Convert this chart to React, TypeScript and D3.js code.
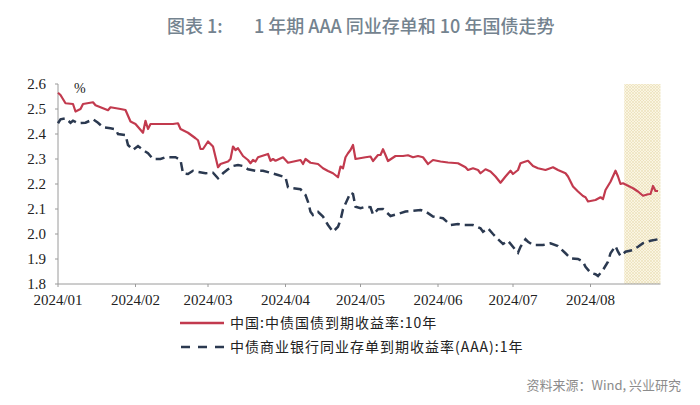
import React from "react";
import * as d3 from "d3";

// 中国:中债国债到期收益率:10年
const bondDates = [
  "2024-01-01", "2024-01-02", "2024-01-04", "2024-01-07", "2024-01-08", "2024-01-10", "2024-01-11",
  "2024-01-15", "2024-01-16", "2024-01-20", "2024-01-21", "2024-01-22", "2024-01-26", "2024-01-28",
  "2024-01-30", "2024-02-01", "2024-02-04", "2024-02-05", "2024-02-06", "2024-02-07", "2024-02-16",
  "2024-02-18", "2024-02-19", "2024-02-22", "2024-02-25", "2024-02-26", "2024-02-27", "2024-02-28",
  "2024-03-01", "2024-03-03", "2024-03-05", "2024-03-06", "2024-03-09", "2024-03-10", "2024-03-11",
  "2024-03-12", "2024-03-13", "2024-03-15", "2024-03-17", "2024-03-18", "2024-03-19", "2024-03-20",
  "2024-03-21", "2024-03-25", "2024-03-26", "2024-03-27", "2024-03-28", "2024-03-31", "2024-04-02",
  "2024-04-07", "2024-04-08", "2024-04-09", "2024-04-11", "2024-04-14", "2024-04-16", "2024-04-18",
  "2024-04-20", "2024-04-22", "2024-04-23", "2024-04-24", "2024-04-25", "2024-04-26", "2024-04-27",
  "2024-04-28", "2024-04-29", "2024-05-03", "2024-05-05", "2024-05-06", "2024-05-08", "2024-05-09",
  "2024-05-10", "2024-05-11", "2024-05-12", "2024-05-15", "2024-05-18", "2024-05-20", "2024-05-22",
  "2024-05-24", "2024-05-26", "2024-05-28", "2024-05-30", "2024-06-02", "2024-06-05", "2024-06-09",
  "2024-06-12", "2024-06-13", "2024-06-15", "2024-06-17", "2024-06-18", "2024-06-20", "2024-06-22",
  "2024-06-24", "2024-06-26", "2024-06-28", "2024-06-30", "2024-07-01", "2024-07-03", "2024-07-04",
  "2024-07-06", "2024-07-07", "2024-07-09", "2024-07-11", "2024-07-14", "2024-07-17", "2024-07-19",
  "2024-07-22", "2024-07-23", "2024-07-25", "2024-07-27", "2024-07-29", "2024-07-30", "2024-07-31",
  "2024-08-03", "2024-08-05", "2024-08-06", "2024-08-07", "2024-08-09", "2024-08-11", "2024-08-12",
  "2024-08-13", "2024-08-14", "2024-08-18", "2024-08-20", "2024-08-22", "2024-08-24", "2024-08-25",
  "2024-08-26", "2024-08-27", "2024-08-28",
];
const bondYields = [
  2.565, 2.556, 2.523, 2.52, 2.49, 2.5, 2.52,
  2.527, 2.515, 2.499, 2.495, 2.507, 2.5, 2.496,
  2.45, 2.44, 2.405, 2.453, 2.42, 2.44, 2.44,
  2.443, 2.42, 2.405, 2.383, 2.375, 2.34, 2.34,
  2.37, 2.35, 2.267, 2.28, 2.29, 2.3, 2.35,
  2.336, 2.343, 2.312, 2.296, 2.283, 2.296, 2.29,
  2.307, 2.32, 2.293, 2.3, 2.293, 2.307, 2.285,
  2.296, 2.28, 2.3, 2.285, 2.28, 2.263, 2.252,
  2.243, 2.227, 2.27, 2.263, 2.307, 2.323, 2.336,
  2.356, 2.3, 2.307, 2.31, 2.292, 2.316, 2.316,
  2.339, 2.316, 2.292, 2.312, 2.312, 2.315, 2.307,
  2.312, 2.307, 2.28, 2.296, 2.29, 2.286, 2.283,
  2.267, 2.256, 2.263, 2.256, 2.243, 2.259, 2.25,
  2.23, 2.205, 2.23, 2.253, 2.24, 2.256, 2.283,
  2.29, 2.293, 2.272, 2.263, 2.256, 2.267, 2.256,
  2.243, 2.23, 2.19, 2.17, 2.152, 2.147, 2.13,
  2.136, 2.147, 2.14, 2.176, 2.209, 2.253, 2.23,
  2.2, 2.203, 2.183, 2.17, 2.153, 2.159, 2.16,
  2.192, 2.172, 2.172,
];

// 中债商业银行同业存单到期收益率(AAA):1年
const cdDates = [
  "2024-01-01", "2024-01-02", "2024-01-04", "2024-01-06", "2024-01-07", "2024-01-09", "2024-01-12",
  "2024-01-15", "2024-01-17", "2024-01-19", "2024-01-22", "2024-01-24", "2024-01-25", "2024-01-28",
  "2024-01-29", "2024-01-31", "2024-02-02", "2024-02-04", "2024-02-06", "2024-02-08", "2024-02-11",
  "2024-02-13", "2024-02-17", "2024-02-19", "2024-02-20", "2024-02-22", "2024-02-24", "2024-02-26",
  "2024-02-29", "2024-03-03", "2024-03-05", "2024-03-07", "2024-03-09", "2024-03-11", "2024-03-13",
  "2024-03-15", "2024-03-17", "2024-03-20", "2024-03-23", "2024-03-26", "2024-03-29", "2024-04-01",
  "2024-04-02", "2024-04-04", "2024-04-07", "2024-04-09", "2024-04-10", "2024-04-11", "2024-04-12",
  "2024-04-14", "2024-04-16", "2024-04-18", "2024-04-20", "2024-04-22", "2024-04-23", "2024-04-24",
  "2024-04-26", "2024-04-27", "2024-04-28", "2024-04-29", "2024-05-01", "2024-05-03", "2024-05-05",
  "2024-05-06", "2024-05-08", "2024-05-10", "2024-05-13", "2024-05-16", "2024-05-19", "2024-05-22",
  "2024-05-25", "2024-05-27", "2024-05-30", "2024-06-03", "2024-06-06", "2024-06-09", "2024-06-11",
  "2024-06-15", "2024-06-18", "2024-06-19", "2024-06-21", "2024-06-23", "2024-06-25", "2024-06-27",
  "2024-06-29", "2024-07-02", "2024-07-03", "2024-07-04", "2024-07-06", "2024-07-07", "2024-07-09",
  "2024-07-13", "2024-07-16", "2024-07-19", "2024-07-22", "2024-07-24", "2024-07-27", "2024-07-29",
  "2024-07-30", "2024-08-01", "2024-08-03", "2024-08-04", "2024-08-06", "2024-08-08", "2024-08-09",
  "2024-08-11", "2024-08-12", "2024-08-13", "2024-08-15", "2024-08-18", "2024-08-20", "2024-08-22",
  "2024-08-25", "2024-08-28",
];
const cdYields = [
  2.443, 2.459, 2.463, 2.445, 2.453, 2.443, 2.445,
  2.459, 2.445, 2.427, 2.423, 2.419, 2.4, 2.396,
  2.356, 2.336, 2.352, 2.336, 2.323, 2.3, 2.3,
  2.307, 2.307, 2.296, 2.243, 2.24, 2.253, 2.248,
  2.243, 2.245, 2.223, 2.243, 2.259, 2.272, 2.276,
  2.272, 2.259, 2.253, 2.253, 2.245, 2.236, 2.227,
  2.187, 2.183, 2.179, 2.156, 2.129, 2.089, 2.076,
  2.089, 2.07, 2.036, 2.009, 2.029, 2.056, 2.099,
  2.143, 2.165, 2.16, 2.109, 2.103, 2.109, 2.107,
  2.078, 2.099, 2.1, 2.072, 2.08, 2.09, 2.093,
  2.096, 2.09, 2.07, 2.063, 2.036, 2.04, 2.036,
  2.036, 2.023, 2.009, 2.023, 2.0, 1.979, 1.96,
  1.973, 1.936, 1.925, 1.949, 1.979, 1.969, 1.956,
  1.956, 1.963, 1.952, 1.923, 1.903, 1.9, 1.889,
  1.869, 1.845, 1.839, 1.832, 1.856, 1.889, 1.923,
  1.952, 1.929, 1.912, 1.929, 1.936, 1.949, 1.963,
  1.973, 1.979,
];

const monthTicks = [
  "2024-01-01", "2024-02-01", "2024-03-01", "2024-04-01",
  "2024-05-01", "2024-06-01", "2024-07-01", "2024-08-01",
];
const yTicks = [1.8, 1.9, 2.0, 2.1, 2.2, 2.3, 2.4, 2.5, 2.6];
const axisStart = "2024-01-01";
const axisEnd = "2024-08-29";
const highlightStart = "2024-08-14";

const parse = d3.timeParse("%Y-%m-%d");
const serif = "'Liberation Serif', 'Times New Roman', serif";
const cjk = "'Noto Sans CJK SC', 'Noto Sans', sans-serif";

const RED = "#c23a4e";
const NAVY = "#2b3950";
const AXIS = "#9a9a9a";

const width = 700;
const height = 405;
const margin = { left: 58, right: 39.5, top: 84, bottom: 121 };

const App = () => {
  const x = d3.scaleTime()
    .domain([parse(axisStart), parse(axisEnd)])
    .range([margin.left, width - margin.right]);
  const y = d3.scaleLinear()
    .domain([1.8, 2.6])
    .range([height - margin.bottom, margin.top]);

  const line = d3.line().x(d => x(d[0])).y(d => y(d[1]));
  const bond = bondDates.map((d, i) => [parse(d), bondYields[i]]);
  const cd = cdDates.map((d, i) => [parse(d), cdYields[i]]);

  const x0 = x.range()[0];
  const x1 = x.range()[1];
  const yBottom = y(1.8);
  const yTop = y(2.6);
  const hx = x(d3.timeHour.offset(parse(highlightStart), 12));
  const fmt = d3.timeFormat("%Y/%m");

  return (
    <svg
      width={width}
      height={height}
      style={{ position: "absolute", left: 0, top: 0, background: "#fff" }}
    >
      <defs>
        <pattern id="hatch" patternUnits="userSpaceOnUse" width={3} height={3}>
          <rect width={3} height={3} fill="#faf5e2" />
          <path d="M0,0 L3,3 M3,0 L0,3" stroke="#e6d9ad" strokeWidth={0.5} />
        </pattern>
      </defs>

      {/* title */}
      <text x={167} y={33} fill="#74838f" fontWeight={500} style={{ fontFamily: cjk, fontSize: 18 }}>
        图表 1:
      </text>
      <text x={254} y={33} fill="#74838f" fontWeight={500} style={{ fontFamily: cjk, fontSize: 18 }}>
        1 年期 AAA 同业存单和 10 年国债走势
      </text>

      {/* highlighted window */}
      <rect x={hx} y={yTop} width={x1 - hx} height={yBottom - yTop} fill="url(#hatch)" />

      {/* y axis */}
      <line x1={x0} x2={x0} y1={yTop} y2={yBottom} stroke={AXIS} />
      {yTicks.map(t => (
        <g key={t}>
          <line x1={x0 - 3} x2={x0} y1={y(t)} y2={y(t)} stroke={AXIS} />
          <text
            x={x0 - 12}
            y={y(t)}
            dy="0.33em"
            textAnchor="end"
            fill="#222"
            style={{ fontFamily: serif, fontSize: 15 }}
          >
            {t.toFixed(1)}
          </text>
        </g>
      ))}
      <text x={74} y={93} fill="#222" style={{ fontFamily: serif, fontSize: 14 }}>%</text>

      {/* x axis */}
      <line x1={x0} x2={x1} y1={yBottom} y2={yBottom} stroke={AXIS} />
      {monthTicks.map(s => {
        const d = parse(s);
        return (
          <g key={s}>
            <line x1={x(d)} x2={x(d)} y1={yBottom} y2={yBottom + 3} stroke={AXIS} />
            <text
              x={x(d)}
              y={yBottom + 21}
              textAnchor="middle"
              fill="#222"
              style={{ fontFamily: serif, fontSize: 15 }}
            >
              {fmt(d)}
            </text>
          </g>
        );
      })}

      {/* series */}
      <path d={line(cd)} fill="none" stroke={NAVY} strokeWidth={2.5} strokeDasharray="9,5" />
      <path d={line(bond)} fill="none" stroke={RED} strokeWidth={2.2} strokeLinejoin="round" />

      {/* legend */}
      <line x1={180} x2={224} y1={323} y2={323} stroke={RED} strokeWidth={2.5} />
      <text x={230} y={328} fill="#222" letterSpacing={1} style={{ fontFamily: cjk, fontSize: 14 }}>
        中国:中债国债到期收益率:10年
      </text>
      <line x1={181} x2={224} y1={347} y2={347} stroke={NAVY} strokeWidth={2.5} strokeDasharray="9,8" />
      <text x={230} y={352} fill="#222" letterSpacing={1} style={{ fontFamily: cjk, fontSize: 14 }}>
        中债商业银行同业存单到期收益率(AAA):1年
      </text>

      {/* source */}
      <text x={681} y={390} textAnchor="end" fill="#8c8c8c" style={{ fontFamily: cjk, fontSize: 13 }}>
        资料来源：Wind, 兴业研究
      </text>
    </svg>
  );
};

export default App;
